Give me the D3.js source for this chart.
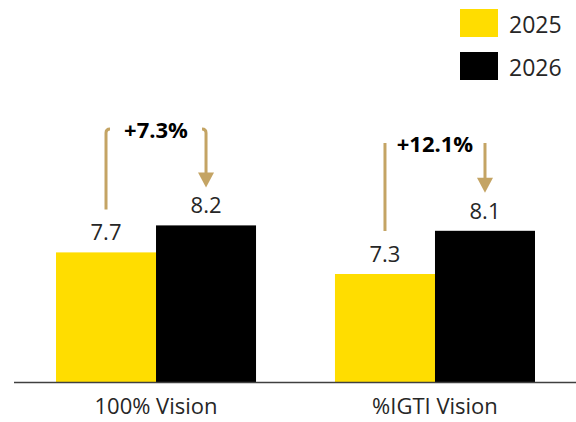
<!DOCTYPE html>
<html>
<head>
<meta charset="utf-8">
<script src="https://cdn.jsdelivr.net/npm/d3@7"></script>
<style>
  body { margin: 0; background: #fff; }
  svg { display: block; font-family: "Open Sans", sans-serif; }
</style>
</head>
<body>
<svg id="chart" width="576" height="422"></svg>
<script>
// data
var categories = ['100% Vision', '%IGTI Vision']
var series = ['2025', '2026']
var values2025 = [7.7, 7.3]
var values2026 = [8.2, 8.1]
var growthLabels = ['+7.3%', '+12.1%']

var colorYellow = '#FFDD00'
var colorBlack = '#000000'
var colorArrow = '#C4A464'
var colorText = '#262626'

var width = 576, height = 422
var baseline = 382

var svg = d3.select('#chart')

var x = d3.scaleBand()
    .domain(categories)
    .range([16.5, 574.5])
    .paddingInner(0.283)
    .paddingOuter(0.1416)

var xs = d3.scaleBand()
    .domain(series)
    .range([0, x.bandwidth()])

var y = d3.scaleLinear()
    .domain([5.3, 10])
    .range([baseline, baseline - 4.7 * 54])

var colors = d3.scaleOrdinal().domain(series).range([colorYellow, colorBlack])

var rows = categories.map(function (c, i) {
    return { cat: c, values: [values2025[i], values2026[i]], growth: growthLabels[i] }
})

// bars
var groups = svg.selectAll('.group')
    .data(rows)
    .enter().append('g')
    .attr('class', 'group')
    .attr('transform', function (d) { return 'translate(' + x(d.cat) + ',0)' })

groups.selectAll('rect')
    .data(function (d) { return d.values.map(function (v, j) { return { s: series[j], v: v } }) })
    .enter().append('rect')
    .attr('x', function (d) { return xs(d.s) })
    .attr('y', function (d) { return y(d.v) })
    .attr('width', xs.bandwidth())
    .attr('height', function (d) { return baseline - y(d.v) })
    .attr('fill', function (d) { return colors(d.s) })

// value labels
groups.selectAll('.val')
    .data(function (d) { return d.values.map(function (v, j) { return { s: series[j], v: v } }) })
    .enter().append('text')
    .attr('class', 'val')
    .attr('x', function (d) { return xs(d.s) + xs.bandwidth() / 2 })
    .attr('y', function (d) { return y(d.v) - 12 })
    .attr('text-anchor', 'middle')
    .attr('font-size', 22)
    .attr('fill', colorText)
    .text(function (d) { return d.v.toFixed(1) })

// growth arrows
var arrowTop = [129, 143]
groups.each(function (d, i) {
    var g = d3.select(this)
    var x0 = xs(series[0]) + xs.bandwidth() / 2
    var x1 = xs(series[1]) + xs.bandwidth() / 2
    var top = arrowTop[i]
    var leftBottom = y(d.values[0]) - 43
    var tip = y(d.values[1]) - 38
    var hook = i === 0 ? 4 : 0
    g.append('path')
        .attr('d', 'M' + (x0 + hook) + ',' + top + ' Q' + x0 + ',' + top + ' ' + x0 + ',' + (top + hook) + ' L' + x0 + ',' + leftBottom)
        .attr('fill', 'none')
        .attr('stroke', colorArrow)
        .attr('stroke-width', 3)
    g.append('path')
        .attr('d', 'M' + (x1 - hook) + ',' + top + ' Q' + x1 + ',' + top + ' ' + x1 + ',' + (top + hook) + ' L' + x1 + ',' + (tip - 14))
        .attr('fill', 'none')
        .attr('stroke', colorArrow)
        .attr('stroke-width', 3)
    g.append('path')
        .attr('d', 'M' + (x1 - 8) + ',' + (tip - 15) + ' L' + (x1 + 8) + ',' + (tip - 15) + ' L' + x1 + ',' + tip + 'Z')
        .attr('fill', colorArrow)
    g.append('text')
        .attr('x', (x0 + x1) / 2)
        .attr('y', top + 9)
        .attr('text-anchor', 'middle')
        .attr('font-size', 22)
        .attr('font-weight', 'bold')
        .attr('fill', '#000')
        .text(d.growth)
})

// axis line
svg.append('line')
    .attr('x1', 14).attr('x2', width)
    .attr('y1', baseline + 0.5).attr('y2', baseline + 0.5)
    .attr('stroke', '#404040')
    .attr('stroke-width', 1.5)

// category labels
svg.selectAll('.cat')
    .data(categories)
    .enter().append('text')
    .attr('class', 'cat')
    .attr('x', function (d) { return x(d) + x.bandwidth() / 2 })
    .attr('y', 414)
    .attr('text-anchor', 'middle')
    .attr('font-size', 22)
    .attr('fill', colorText)
    .text(function (d) { return d })

// legend
var legend = svg.selectAll('.legend')
    .data(series)
    .enter().append('g')
    .attr('class', 'legend')
    .attr('transform', function (d, i) { return 'translate(460,' + (9 + i * 43) + ')' })

legend.append('rect')
    .attr('width', 38)
    .attr('height', 28)
    .attr('fill', function (d) { return colors(d) })

legend.append('text')
    .attr('x', 49)
    .attr('y', 24)
    .attr('font-size', 23)
    .attr('fill', colorText)
    .text(function (d) { return d })
</script>
</body>
</html>
